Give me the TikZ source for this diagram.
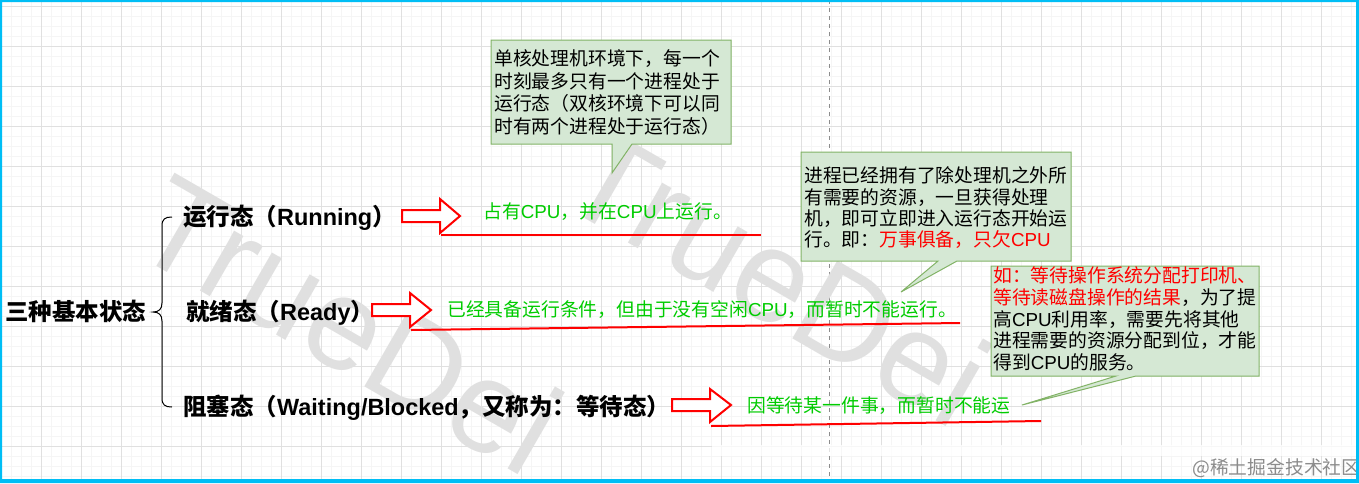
\documentclass[tikz,border=0pt]{standalone}
\usepackage{fontspec}
\setmainfont{Noto Sans CJK SC}
\newfontfamily\lat{Liberation Sans}
\definecolor{cyanframe}{RGB}{0,190,245}
\definecolor{boxfill}{RGB}{213,232,212}
\definecolor{boxline}{RGB}{130,179,102}
\definecolor{mygreen}{RGB}{0,204,0}
\definecolor{wmgray}{RGB}{224,224,224}
\newcommand\cpu{{\lat CPU}}
\begin{document}
\begin{tikzpicture}[x=0.75pt,y=-0.75pt,
  minorgrid/.style={draw=black!4,line width=0.75pt},
  majorgrid/.style={draw=black!12,line width=0.75pt},
  statelabel/.style={font=\fontsize{17.6}{20}\selectfont\bfseries,anchor=base west,inner sep=0},
  bodytext/.style={font=\fontsize{14.1}{16}\selectfont,anchor=base west,inner sep=0},
  greentext/.style={bodytext,text=mygreen},
  calloutbox/.style={fill=boxfill,draw=boxline,line width=0.75pt,line join=miter},
  hollowarrow/.style={draw=red,fill=white,line width=1.5pt,line join=miter},
  uline/.style={draw=red,line width=1.5pt},
  watermark/.style={font=\lat\fontsize{98}{98}\selectfont,text=wmgray,rotate=-30,inner sep=0}]
\useasboundingbox (0,0) rectangle (1359,483);
\fill[white] (0,0) rectangle (1359,483);
% grid
\foreach \i in {0,...,135} \draw[minorgrid] ({1+10*\i},0) -- ({1+10*\i},483);
\foreach \j in {0,...,47} \draw[minorgrid] (0,{6+10*\j}) -- (1359,{6+10*\j});
\foreach \i in {0,...,33} \draw[majorgrid] ({1+40*\i},0) -- ({1+40*\i},483);
\foreach \j in {0,...,11} \draw[majorgrid] (0,{6+40*\j}) -- (1359,{6+40*\j});
\draw[black!45,line width=0.6pt,dash pattern=on 3pt off 3pt] (829,0) -- (829,483);
\fill[white,opacity=0.75] (712,445) rectangle (1356,456);
% watermarks
\node[watermark] (wm1) at (350,324) {TrueDei};
\node[watermark] (wm2) at (778,276) {TrueDei};
% brace and titles
\node[statelabel] (title) at (5,320.5) {三种基本状态};
\draw[line width=0.75pt] (172,217) .. controls (165,217) and (162,219) .. (162,226) -- (162,303) .. controls (162,309) and (159,312) .. (153,312) .. controls (159,312) and (162,315) .. (162,321) -- (162,398) .. controls (162,405) and (165,407) .. (172,407);
\node[statelabel] (running) at (183,225.5) {运行态（{\lat\bfseries Running}）};
\node[statelabel] (ready) at (186,320.5) {就绪态（{\lat\bfseries Ready}）};
\node[statelabel] (blocked) at (183,415.5) {阻塞态（{\lat\bfseries Waiting/Blocked}，又称为：等待态）};
% hollow arrows
\draw[hollowarrow] (402,210) -- (440,210) -- (440,199) -- (460,216) -- (440,233) -- (440,222) -- (402,222) -- cycle;
\draw[hollowarrow] (372,304) -- (410,304) -- (410,293) -- (431,310) -- (410,327) -- (410,316) -- (372,316) -- cycle;
\draw[hollowarrow] (672,399) -- (710,399) -- (710,389) -- (731,405) -- (710,422) -- (710,411) -- (672,411) -- cycle;
% green descriptions
\node[greentext] (g1) at (483,218) {占有\cpu，并在\cpu 上运行。};
\node[greentext] (g2) at (447,316) {已经具备运行条件，但由于没有空闲\cpu，而暂时不能运行。};
\node[greentext] (g3) at (747,412) {因等待某一件事，而暂时不能运};
\draw[uline] (441,235) -- (761,235);
\draw[uline] (411,330) -- (960,323);
\draw[uline] (711,426) -- (1041,421);
% callout A
\draw[calloutbox] (491,40) -- (731,40) -- (731,144) -- (632,144) -- (612,173) -- (612,144) -- (491,144) -- cycle;
\node[bodytext] (a1) at (494,65.5) {单核处理机环境下，每一个};
\node[bodytext] (a2) at (494,88) {时刻最多只有一个进程处于};
\node[bodytext] (a3) at (494,110.5) {运行态（双核环境下可以同};
\node[bodytext] (a4) at (494,133) {时有两个进程处于运行态）};
% callout B
\draw[calloutbox] (801,152) -- (1071,152) -- (1071,261) -- (957,261) -- (901,292) -- (938,261) -- (801,261) -- cycle;
\node[bodytext] (b1) at (804,182) {进程已经拥有了除处理机之外所};
\node[bodytext] (b2) at (804,204) {有需要的资源，一旦获得处理};
\node[bodytext] (b3) at (804,225) {机，即可立即进入运行态开始运};
\node[bodytext] (b4) at (804,246) {行。即：\textcolor{red}{万事俱备，只欠\cpu}};
% callout C
\draw[calloutbox] (991,266) -- (1259,266) -- (1259,376) -- (1136,376) -- (1022,405) -- (1116,376) -- (991,376) -- cycle;
\node[bodytext,text=red] (c1) at (993,282.5) {如：等待操作系统分配打印机、};
\node[bodytext] (c2) at (993,304.5) {\textcolor{red}{等待读磁盘操作的结果}，为了提};
\node[bodytext] (c3) at (993,326) {高\cpu 利用率，需要先将其他};
\node[bodytext] (c4) at (993,347.5) {进程需要的资源分配到位，才能};
\node[bodytext] (c5) at (993,369) {得到\cpu 的服务。};
% credit
\node[bodytext,text=black!45] (credit) at (1192,474) {@稀土掘金技术社区};
% frame
\fill[cyanframe,even odd rule] (0,0) rectangle (1359,483) (2,2) rectangle (1356,479);
\end{tikzpicture}
\end{document}
